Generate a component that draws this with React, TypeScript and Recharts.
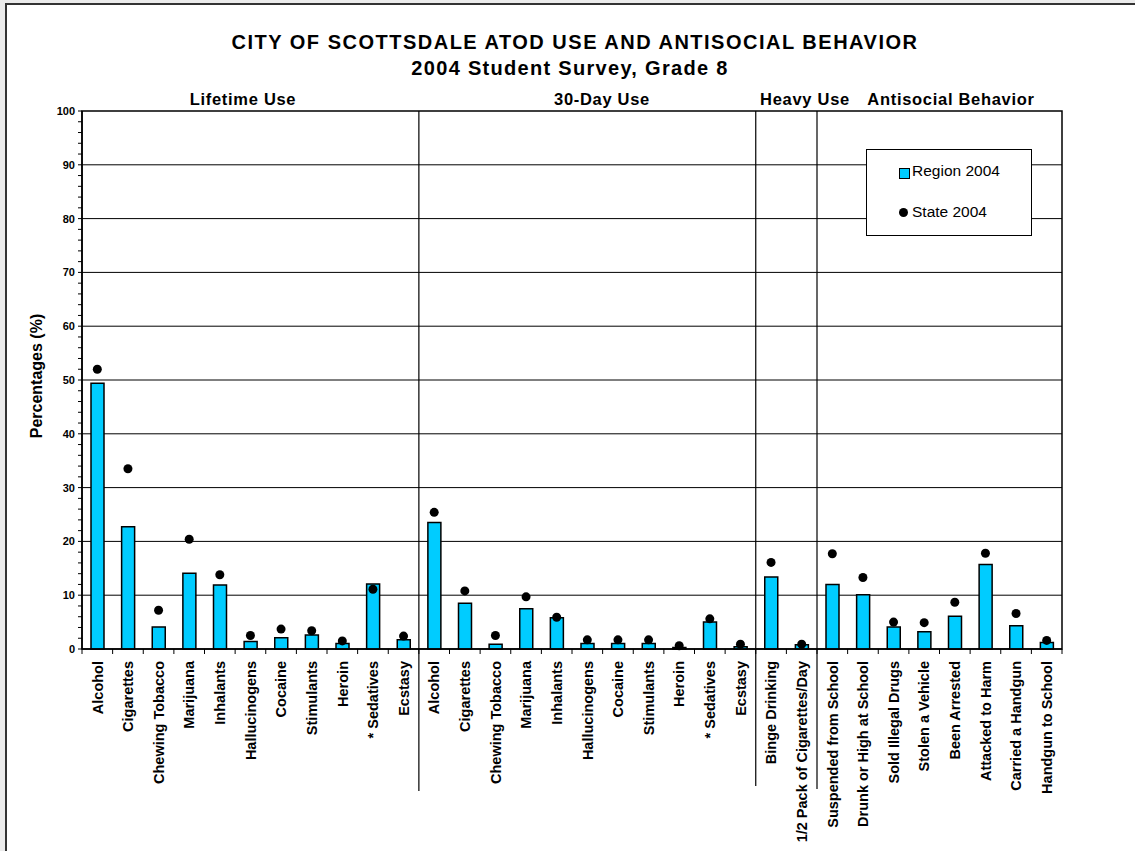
import React from 'react';
import { ComposedChart, Bar, Line, XAxis, YAxis, CartesianGrid, ReferenceArea } from 'recharts';

// categories in plot order (Lifetime 11, 30-Day 11, Heavy 2, Antisocial 8)
const categories = [
  'Alcohol', 'Cigarettes', 'Chewing Tobacco', 'Marijuana', 'Inhalants', 'Hallucinogens',
  'Cocaine', 'Stimulants', 'Heroin', '* Sedatives', 'Ecstasy',
  'Alcohol', 'Cigarettes', 'Chewing Tobacco', 'Marijuana', 'Inhalants', 'Hallucinogens',
  'Cocaine', 'Stimulants', 'Heroin', '* Sedatives', 'Ecstasy',
  'Binge Drinking', '1/2 Pack of Cigarettes/Day',
  'Suspended from School', 'Drunk or High at School', 'Sold Illegal Drugs', 'Stolen a Vehicle',
  'Been Arrested', 'Attacked to Harm', 'Carried a Handgun', 'Handgun to School',
];

const regionValues = [
  49.4, 22.7, 4.1, 14.1, 11.9, 1.4, 2.1, 2.6, 1.0, 12.1, 1.7,
  23.5, 8.5, 0.9, 7.5, 5.8, 1.0, 1.0, 1.0, 0.3, 5.0, 0.4,
  13.4, 0.8,
  12.0, 10.1, 4.1, 3.2, 6.1, 15.7, 4.3, 1.2,
];

const stateValues = [
  52.0, 33.5, 7.2, 20.4, 13.8, 2.5, 3.7, 3.4, 1.5, 11.1, 2.4,
  25.4, 10.8, 2.5, 9.7, 5.9, 1.7, 1.7, 1.7, 0.6, 5.6, 0.9,
  16.1, 0.9,
  17.7, 13.3, 5.0, 4.9, 8.7, 17.8, 6.6, 1.6,
];

const groupNames = ['Lifetime Use', '30-Day Use', 'Heavy Use', 'Antisocial Behavior'];
const groupStarts = [0, 11, 22, 24];

const yTicks = [
  0, 2, 4, 6, 8, 10, 12, 14, 16, 18, 20, 22, 24, 26, 28, 30, 32, 34, 36, 38, 40,
  42, 44, 46, 48, 50, 52, 54, 56, 58, 60, 62, 64, 66, 68, 70, 72, 74, 76, 78, 80,
  82, 84, 86, 88, 90, 92, 94, 96, 98, 100,
];
const gridValues = [10, 20, 30, 40, 50, 60, 70, 80, 90];

const data = categories.map((name, i) => ({
  idx: i,
  name,
  region: regionValues[i],
  state: stateValues[i],
}));

// layout
const W = 1135;
const H = 851;
const PLOT_LEFT = 82;
const PLOT_RIGHT = 1062;
const PLOT_TOP = 111;
const AXIS_Y = 649;
const BAND = (PLOT_RIGHT - PLOT_LEFT) / categories.length;
const groupLabelX = [243, 602, 805, 951];
const sepBottoms = [791, 786, 789];

const font = '"Liberation Sans", Arial, sans-serif';

const XTick = (props: any) => {
  const { x, payload } = props;
  const i = Number(payload.value);
  const sepIdx = groupStarts.indexOf(i);
  const bx = x - BAND / 2;
  return (
    <g>
      <line x1={bx} x2={bx} y1={AXIS_Y} y2={AXIS_Y + 5} stroke="#000" />
      {i === categories.length - 1 && (
        <line x1={x + BAND / 2} x2={x + BAND / 2} y1={AXIS_Y} y2={AXIS_Y + 5} stroke="#000" />
      )}
      {sepIdx > 0 && (
        <line x1={bx} x2={bx} y1={PLOT_TOP} y2={sepBottoms[sepIdx - 1]} stroke="#000" strokeWidth={1.2} />
      )}
      <text
        x={x}
        y={AXIS_Y + 12}
        dy="0.36em"
        transform={`rotate(-90, ${x}, ${AXIS_Y + 12})`}
        textAnchor="end"
        fontFamily={font}
        fontWeight="bold"
        fontSize={14.5}
        fill="#000"
      >
        {categories[i]}
      </text>
    </g>
  );
};

export default function App() {
  return (
    <div style={{ position: 'absolute', left: 0, top: 0, width: W, height: H, background: '#ebebeb', overflow: 'hidden', fontFamily: font }}>
      <div style={{ position: 'absolute', left: 5, top: 3, width: W, height: H, background: '#fff', borderLeft: '2px solid #333', borderTop: '2px solid #333' }} />

      <div style={{ position: 'absolute', left: 0, width: 1150, top: 42 - 12, height: 24, lineHeight: '24px', textAlign: 'center', fontWeight: 'bold', fontSize: 20, letterSpacing: 1.5 }}>
        CITY OF SCOTTSDALE ATOD USE AND ANTISOCIAL BEHAVIOR
      </div>
      <div style={{ position: 'absolute', left: 0, width: 1140, top: 68 - 12, height: 24, lineHeight: '24px', textAlign: 'center', fontWeight: 'bold', fontSize: 20, letterSpacing: 1.3 }}>
        2004 Student Survey, Grade 8
      </div>

      {groupNames.map((g, i) => (
        <div key={g} style={{ position: 'absolute', left: groupLabelX[i] - 120, width: 240, top: 99 - 10, height: 20, lineHeight: '20px', textAlign: 'center', fontWeight: 'bold', fontSize: 16.5, letterSpacing: 0.7 }}>
          {g}
        </div>
      ))}

      <div style={{ position: 'absolute', left: 37 - 100, width: 200, top: 376 - 10, height: 20, lineHeight: '20px', textAlign: 'center', fontWeight: 'bold', fontSize: 16, transform: 'rotate(-90deg)' }}>
        Percentages (%)
      </div>

      <div style={{ position: 'absolute', left: 0, top: 0 }}>
        <ComposedChart
          width={W}
          height={H}
          data={data}
          margin={{ top: PLOT_TOP, right: W - PLOT_RIGHT, bottom: H - AXIS_Y - 150, left: PLOT_LEFT - 40 }}
        >
          <CartesianGrid vertical={false} horizontalValues={gridValues} stroke="#000" strokeWidth={1} />
          <XAxis
            dataKey="idx"
            type="category"
            interval={0}
            height={150}
            tickLine={false}
            tickSize={0}
            axisLine={{ stroke: '#000', strokeWidth: 1.5 }}
            tick={<XTick />}
          />
          <YAxis
            width={40}
            domain={[0, 100]}
            ticks={yTicks}
            interval={0}
            tickSize={4}
            tickMargin={3}
            tickLine={{ stroke: '#000' }}
            axisLine={{ stroke: '#000', strokeWidth: 1.5 }}
            tickFormatter={(v: number) => (v % 10 === 0 ? String(v) : '')}
            tick={{ fontSize: 11, fontWeight: 'bold', fill: '#000', fontFamily: font }}
          />
          <Bar dataKey="region" fill="#00ccff" stroke="#000" strokeWidth={1.5} barSize={13} isAnimationActive={false} />
          <Line
            dataKey="state"
            stroke="none"
            dot={{ r: 4.5, fill: '#000', stroke: 'none' }}
            activeDot={false}
            isAnimationActive={false}
          />
          <ReferenceArea y1={0} y2={100} fill="none" stroke="#000" strokeWidth={1.5} ifOverflow="visible" />
        </ComposedChart>
      </div>

      <div style={{ position: 'absolute', left: 866, top: 149, width: 164, height: 85, background: '#fff', border: '1px solid #000', fontSize: 15.5 }}>
        <div style={{ position: 'absolute', left: 32, top: 18, width: 9, height: 9, background: '#00ccff', border: '1px solid #000' }} />
        <div style={{ position: 'absolute', left: 45, top: 12 }}>Region 2004</div>
        <div style={{ position: 'absolute', left: 32, top: 58, width: 9, height: 9, borderRadius: '50%', background: '#000' }} />
        <div style={{ position: 'absolute', left: 45, top: 53 }}>State 2004</div>
      </div>
    </div>
  );
}
